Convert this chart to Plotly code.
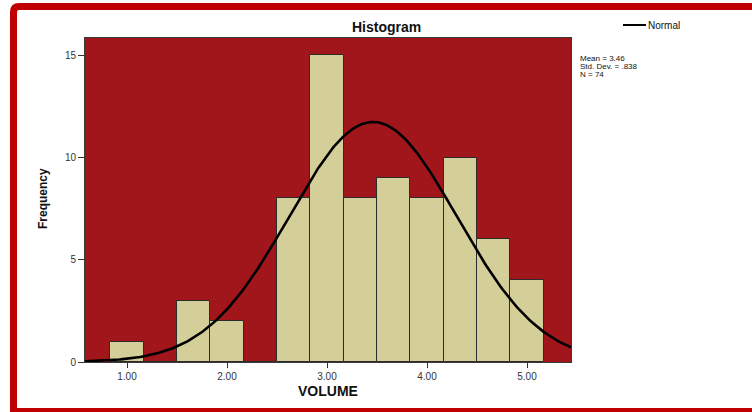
import numpy as np
import plotly.graph_objects as go

# ---- data ----
bin_centers = [1.0, 1.333, 1.667, 2.0, 2.333, 2.667, 3.0, 3.333, 3.667, 4.0, 4.333, 4.667, 5.0]
counts = [1, 0, 3, 2, 0, 8, 15, 8, 9, 8, 10, 6, 4]
bin_width = 1 / 3
mean_val = 3.46
std_val = 0.838
n_val = 74
x_tick_vals = [1, 2, 3, 4, 5]
x_tick_text = ["1.00", "2.00", "3.00", "4.00", "5.00"]
y_tick_vals = [0, 5, 10, 15]
y_tick_text = ["0", "5", "10", "15"]

W, H = 752, 412
ML, MR, MT, MB = 85, 181, 38, 50
PW, PH = W - ML - MR, H - MT - MB


def px(x):
    return (x - ML) / PW


def py(y):
    return (H - MB - y) / PH


FONT = "Liberation Sans, Arial, sans-serif"

xr = [0.58, 5.44]
xs = np.linspace(xr[0], xr[1], 300)
ys = n_val * bin_width * np.exp(-0.5 * ((xs - mean_val) / std_val) ** 2) / (std_val * np.sqrt(2 * np.pi))

fig = go.Figure()
fig.add_trace(go.Bar(
    x=bin_centers, y=counts, width=bin_width,
    marker=dict(color="#D4CF99", line=dict(color="#2b2b2b", width=1)),
    name="VOLUME", showlegend=False,
))
fig.add_trace(go.Scatter(
    x=xs, y=ys, mode="lines", line=dict(color="black", width=2.6),
    name="Normal", showlegend=False,
))

border = (
    f"M {px(760)},{py(6.5)} L {px(19)},{py(6.5)} "
    f"Q {px(13.5)},{py(6.5)} {px(13.5)},{py(12)} "
    f"L {px(13.5)},{py(411.5)} L {px(760)},{py(411.5)}"
)


def ann(text, x, y, size, xanchor="center", angle=0):
    return dict(text=text, x=px(x), y=py(y), xref="paper", yref="paper",
                xanchor=xanchor, yanchor="middle", showarrow=False, textangle=angle,
                font=dict(size=size, color="#111111", family=FONT))


fig.update_layout(
    width=W, height=H,
    margin=dict(l=ML, r=MR, t=MT, b=MB),
    paper_bgcolor="white",
    plot_bgcolor="#A1161B",
    bargap=0,
    font=dict(family=FONT, color="#333333"),
    xaxis=dict(
        range=xr, tickvals=x_tick_vals, ticktext=x_tick_text,
        ticks="outside", ticklen=5, tickcolor="#333333", tickwidth=1,
        tickfont=dict(size=10, color="#333333"),
        showgrid=False, zeroline=False,
        showline=True, mirror=True, linecolor="#3a3a3a", linewidth=1,
    ),
    yaxis=dict(
        range=[0, 15.85], tickvals=y_tick_vals, ticktext=y_tick_text,
        ticks="outside", ticklen=6, tickcolor="#333333", tickwidth=1,
        tickfont=dict(size=10, color="#333333"),
        showgrid=False, zeroline=False,
        showline=True, mirror=True, linecolor="#3a3a3a", linewidth=1,
    ),
    shapes=[
        dict(type="path", xref="paper", yref="paper", path=border,
             line=dict(color="#C00000", width=7), layer="above"),
        dict(type="line", xref="paper", yref="paper",
             x0=px(623), x1=px(646), y0=py(25), y1=py(25),
             line=dict(color="black", width=2)),
    ],
    annotations=[
        ann("<b>Histogram</b>", 386, 27, 14),
        ann("<b>VOLUME</b>", 328, 391, 14),
        ann("<b>Frequency</b>", 43, 199, 12, angle=-90),
        ann("Normal", 646, 25.5, 10, xanchor="left"),
        ann(f"Mean = {mean_val:.2f}", 578, 58.5, 8, xanchor="left"),
        ann("Std. Dev. = .838", 578, 66.5, 8, xanchor="left"),
        ann(f"N = {n_val}", 578, 74.5, 8, xanchor="left"),
    ],
)

fig.write_html(
    "out.html",
    config={"displayModeBar": False},
    post_script="document.body.style.margin='0';document.body.style.overflow='hidden';",
)
